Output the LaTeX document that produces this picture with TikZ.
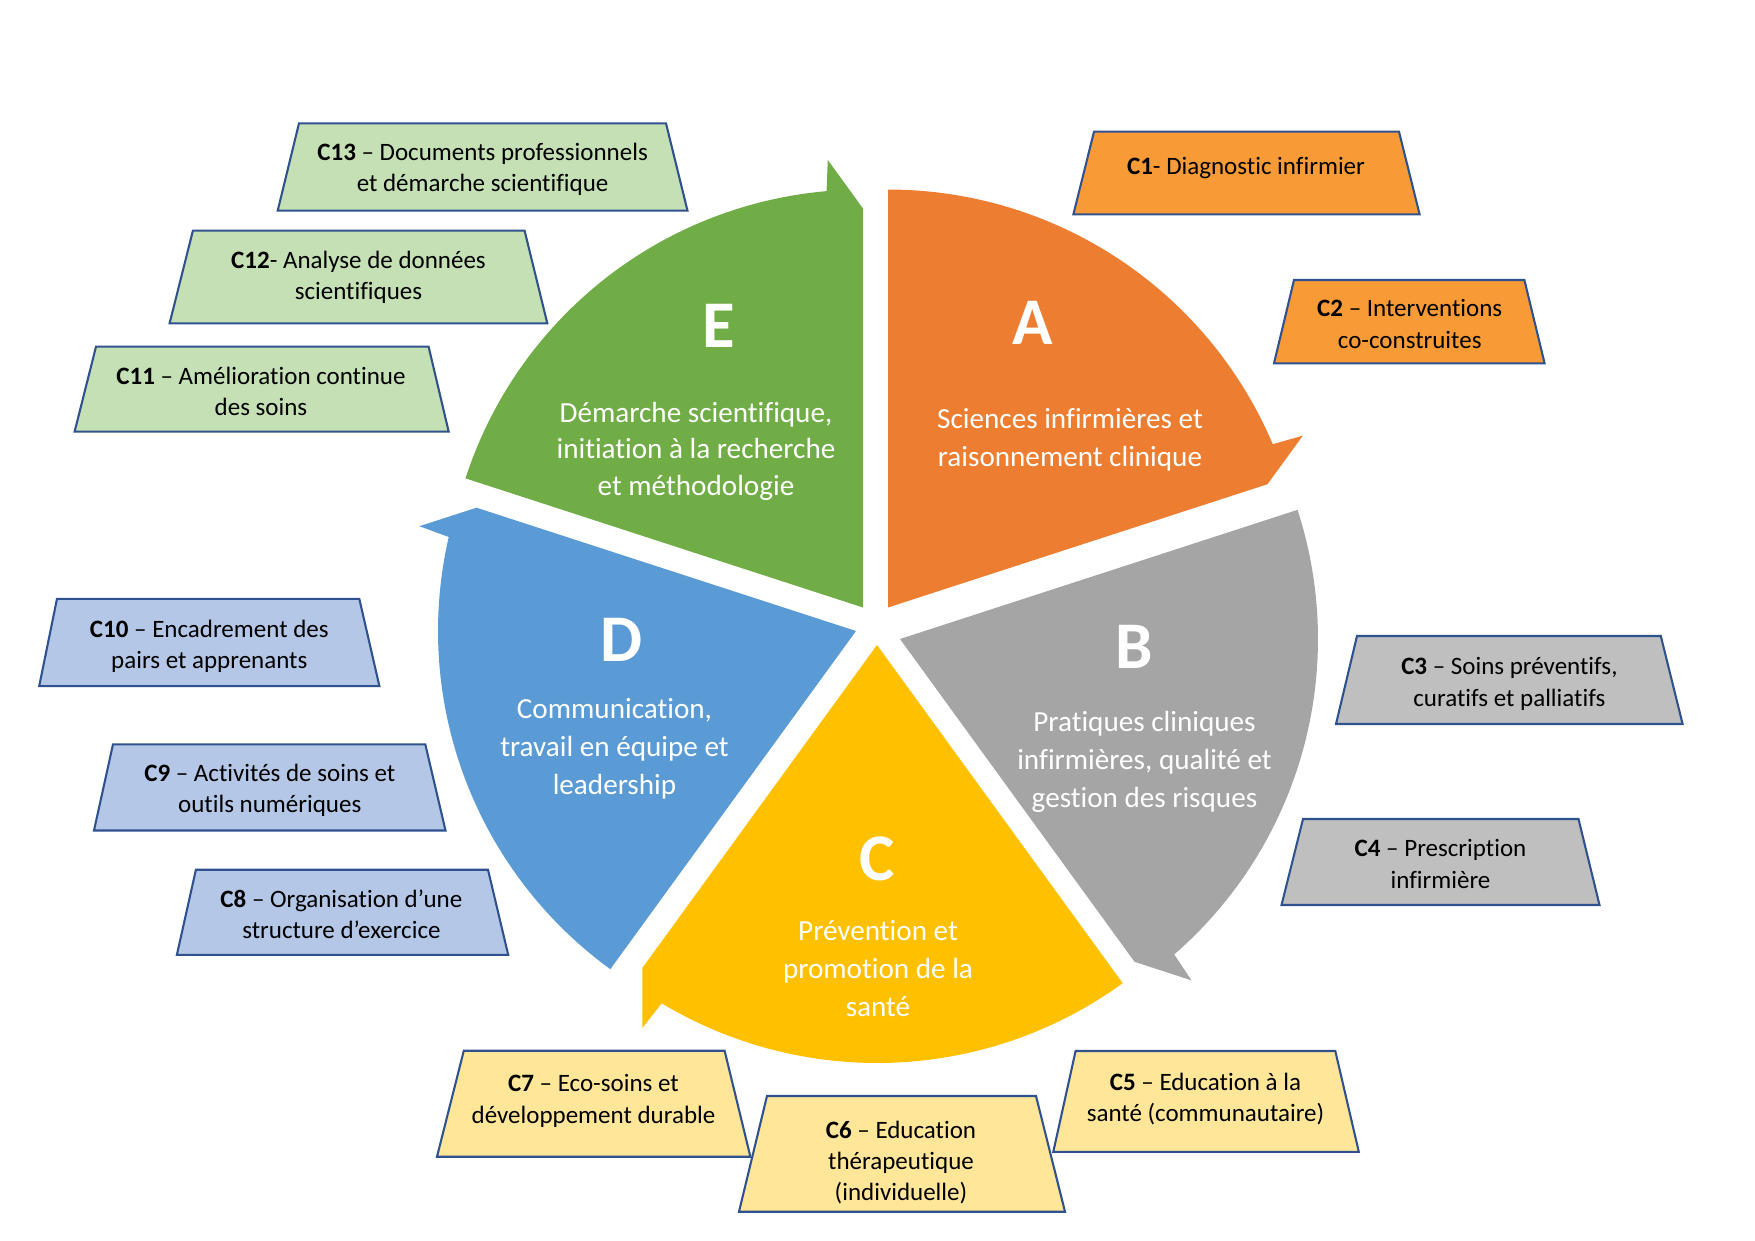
\documentclass[tikz,border=0pt]{standalone}
\usepackage{fontspec}
\setmainfont{Carlito}[Ligatures=NoCommon]
\definecolor{segA}{HTML}{ED7D31}
\definecolor{segB}{HTML}{A5A5A5}
\definecolor{segC}{HTML}{FFC000}
\definecolor{segD}{HTML}{5B9BD5}
\definecolor{segE}{HTML}{70AD47}
\definecolor{boxA}{HTML}{F89B37}
\definecolor{boxB}{HTML}{BFBFBF}
\definecolor{boxC}{HTML}{FFE699}
\definecolor{boxD}{HTML}{B4C7E7}
\definecolor{boxE}{HTML}{C5E0B4}
\definecolor{edgeblue}{HTML}{2F528F}
\begin{document}
\begin{tikzpicture}[x=0.48pt,y=-0.48pt,
  letter/.style={text=white, font=\fontsize{32}{38}\selectfont\bfseries, inner sep=0pt},
  desc/.style={text=white, font=\fontsize{14}{18.3}\selectfont, align=center, inner sep=0pt,
    execute at begin node=\strut, execute at end node=\strut},
  ctext/.style={text=black, font=\fontsize{12}{15}\selectfont, align=center, inner sep=0pt,
    execute at begin node=\strut, execute at end node=\strut},
  trap/.style={draw=edgeblue, line width=1pt, line join=miter}
]
\useasboundingbox (0,0) rectangle (1755,1241);

% ---- pie segments (circular arrows) ----
\fill[segA, shift={(888,607.5)}] (0,0) -- plot[domain=-90:-23, samples=60] (\x:418) -- (-22.5:449) -- (-18:399) -- cycle;
\fill[segB, shift={(900,639)}] (0,0) -- plot[domain=-18:49, samples=60] (\x:418) -- (49.5:449) -- (54:399) -- cycle;
\fill[segC, shift={(877,645)}] (0,0) -- plot[domain=54:121, samples=60] (\x:418) -- (121.5:449) -- (126:399) -- cycle;
\fill[segD, shift={(856,631)}] (0,0) -- plot[domain=126:193, samples=60] (\x:418) -- (193.5:449) -- (198:399) -- cycle;
\fill[segE, shift={(863,607.5)}] (0,0) -- plot[domain=198:265, samples=60] (\x:418) -- (265.5:449) -- (270:399) -- cycle;

% ---- segment letters and titles ----
\node[letter] (lA) at (1033,323) {A};
\node[letter] (lB) at (1134,647) {B};
\node[letter] (lC) at (877,858.5) {C};
\node[letter] (lD) at (622,639.5) {D};
\node[letter] (lE) at (718.5,325.5) {E};

\node[desc] (dA) at (1070,443) {Sciences infirmières et\\raisonnement clinique};
\node[desc] (dB) at (1144.5,765) {Pratiques cliniques\\infirmières, qualité et\\gestion des risques};
\node[desc] (dC) at (878,974.2) {Prévention et\\promotion de la\\santé};
\node[desc] (dD) at (614.5,752.5) {Communication,\\travail en équipe et\\leadership};
\node[desc, font=\fontsize{14}{17.4}\selectfont] (dE) at (696,454.3) {Démarche scientifique,\\initiation à la recherche\\et méthodologie};

% ---- competence boxes ----
\draw[trap, fill=boxA] (1094,131.7) -- (1399,131.7) -- (1419.6,214.3) -- (1073.4,214.3) -- cycle;
\node[ctext] (c1) at (1246,168.5) {\textbf{C1}- Diagnostic infirmier};

\draw[trap, fill=boxA] (1294,280) -- (1524.4,280) -- (1544.6,363.3) -- (1274,363.3) -- cycle;
\node[ctext] (c2) at (1409.7,328.7) {\textbf{C2} – Interventions\\co-construites};

\draw[trap, fill=boxB] (1357,636) -- (1660.8,636) -- (1682.6,724) -- (1336,724) -- cycle;
\node[ctext] (c3) at (1509.4,686.5) {\textbf{C3} – Soins préventifs,\\curatifs et palliatifs};

\draw[trap, fill=boxB] (1303,819) -- (1578.5,819) -- (1599.5,905) -- (1281.5,905) -- cycle;
\node[ctext] (c4) at (1440.5,868.5) {\textbf{C4} – Prescription\\infirmière};

\draw[trap, fill=boxC] (1075.6,1051) -- (1335.3,1051) -- (1358.8,1151.8) -- (1053.3,1151.8) -- cycle;
\node[ctext] (c5) at (1205.5,1102) {\textbf{C5} – Education à la\\santé (communautaire)};

\draw[trap, fill=boxC] (463.8,1050.7) -- (724.6,1050.7) -- (750.4,1156.7) -- (437,1156.7) -- cycle;
\node[ctext] (c7) at (593.5,1103.5) {\textbf{C7} – Eco-soins et\\développement durable};

\draw[trap, fill=boxC] (767,1096) -- (1036,1096) -- (1065,1211.7) -- (739,1211.7) -- cycle;
\node[ctext] (c6) at (901,1165.5) {\textbf{C6} – Education\\thérapeutique\\(individuelle)};

\draw[trap, fill=boxD] (195.9,869.7) -- (488,869.7) -- (508.2,954.8) -- (176.9,954.8) -- cycle;
\node[ctext] (c8) at (341.4,918.5) {\textbf{C8} – Organisation d’une\\structure d’exercice};

\draw[trap, fill=boxD] (113,744.3) -- (425.3,744.3) -- (445.5,830.5) -- (94,830.5) -- cycle;
\node[ctext] (c9) at (269.8,793) {\textbf{C9} – Activités de soins et\\outils numériques};

\draw[trap, fill=boxD] (57,598.8) -- (359.3,598.8) -- (379.4,686.1) -- (39.2,686.1) -- cycle;
\node[ctext] (c10) at (209.3,648.7) {\textbf{C10} – Encadrement des\\pairs et apprenants};

\draw[trap, fill=boxE] (96,346.7) -- (428.6,346.7) -- (448.7,431.7) -- (74.6,431.7) -- cycle;
\node[ctext] (c11) at (261,395.8) {\textbf{C11} – Amélioration continue\\des soins};

\draw[trap, fill=boxE] (192.9,230.7) -- (524.6,230.7) -- (547.3,323.3) -- (169.6,323.3) -- cycle;
\node[ctext] (c12) at (358.5,280.3) {\textbf{C12}- Analyse de données\\scientifiques};

\draw[trap, fill=boxE] (299,123.3) -- (666,123.3) -- (687.5,210.7) -- (277.7,210.7) -- cycle;
\node[ctext] (c13) at (482.6,172) {\textbf{C13} – Documents professionnels\\et démarche scientifique};
\end{tikzpicture}
\end{document}
